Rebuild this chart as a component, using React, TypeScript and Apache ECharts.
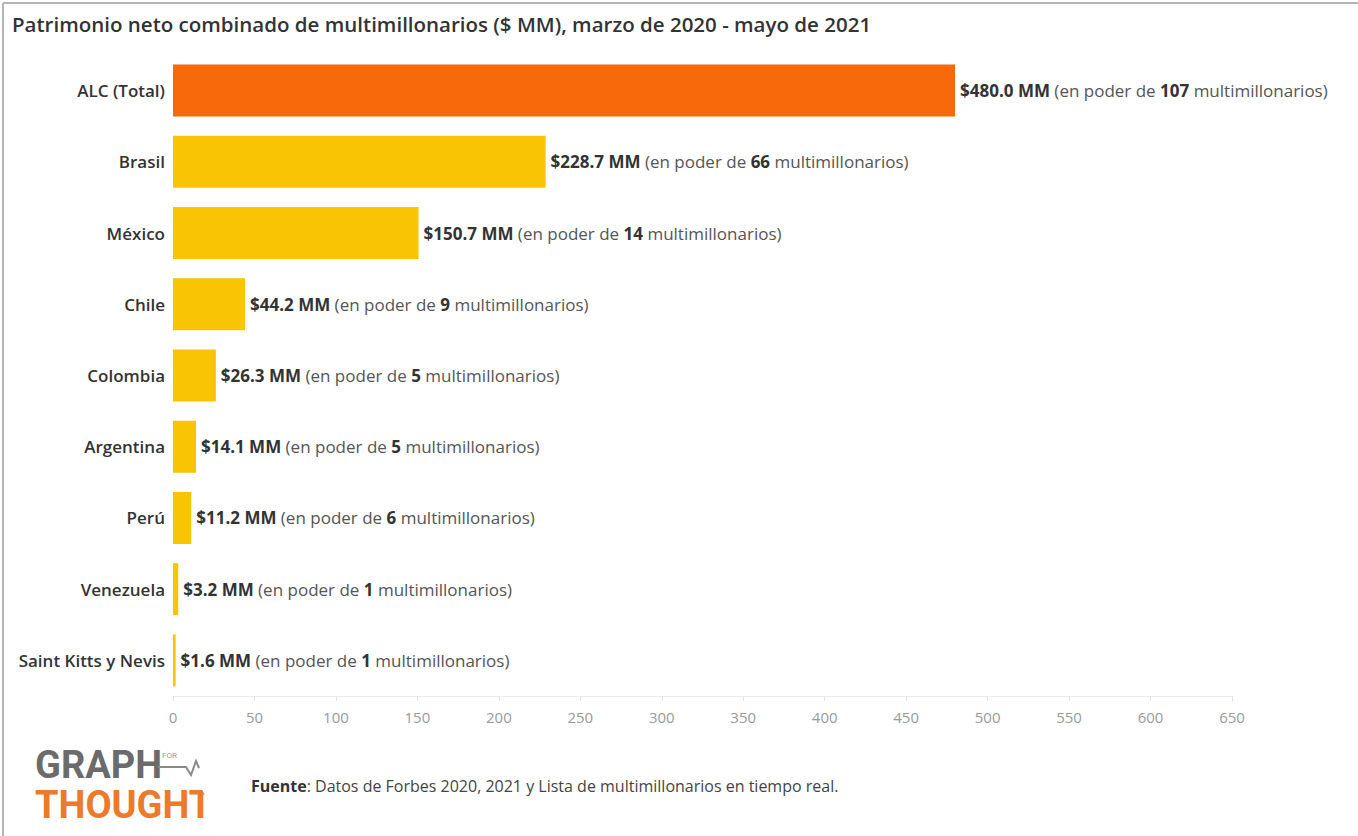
import React, { useEffect, useRef } from "react";
import * as echarts from "echarts";

const categories = [
  "ALC (Total)",
  "Brasil",
  "México",
  "Chile",
  "Colombia",
  "Argentina",
  "Perú",
  "Venezuela",
  "Saint Kitts y Nevis",
];
const netWorth = [480.0, 228.7, 150.7, 44.2, 26.3, 14.1, 11.2, 3.2, 1.6];
const billionaires = [107, 66, 14, 9, 5, 5, 6, 1, 1];
const axisMax = 650;
const axisStep = 50;

const titleText =
  "Patrimonio neto combinado de multimillonarios ($ MM), marzo de 2020 - mayo de 2021";
const sourceLabel = "Fuente";
const sourceText = ": Datos de Forbes 2020, 2021 y Lista de multimillonarios en tiempo real.";

const ORANGE = "#F8690C";
const YELLOW = "#F9C404";
const FONT = "'Open Sans', 'Noto Sans', sans-serif";

export default function App() {
  const ref = useRef<HTMLDivElement>(null);

  useEffect(() => {
    if (!ref.current) return;
    const chart = echarts.init(ref.current, undefined, { renderer: "svg" });
    chart.setOption({
      animation: false,
      backgroundColor: "#ffffff",
      textStyle: { fontFamily: FONT },
      grid: { left: 173, top: 55, width: 1059, height: 641, containLabel: false },
      xAxis: {
        type: "value",
        min: 0,
        max: axisMax,
        interval: axisStep,
        axisLine: { show: true, lineStyle: { color: "#ececec", width: 1 } },
        axisTick: { show: true, length: 5, lineStyle: { color: "#e2e2e2" } },
        splitLine: { show: false },
        axisLabel: {
          color: "#9a9a9a",
          fontSize: 15,
          margin: 13,
          fontFamily: FONT,
        },
      },
      yAxis: {
        type: "category",
        data: categories,
        inverse: true,
        axisLine: { show: false },
        axisTick: { show: false },
        axisLabel: {
          color: "#333333",
          fontSize: 17,
          fontWeight: 600,
          margin: 8,
          fontFamily: FONT,
        },
      },
      series: [
        {
          type: "bar",
          data: netWorth.map((v, i) => ({
            value: v,
            itemStyle: { color: i === 0 ? ORANGE : YELLOW },
          })),
          barWidth: 52,
          label: {
            show: true,
            position: "right",
            distance: 5,
            formatter: (p: any) =>
              `{b|$${Number(p.value).toFixed(1)} MM}{n| (en poder de }{b|${billionaires[p.dataIndex]}}{n| multimillonarios)}`,
            rich: {
              b: { fontSize: 17, fontWeight: 700, color: "#333333", fontFamily: FONT },
              n: { fontSize: 17, fontWeight: 400, color: "#555555", fontFamily: FONT },
            },
          },
        },
      ],
      graphic: [
        { type: "line", shape: { x1: 3, y1: 3, x2: 1358, y2: 3 }, style: { stroke: "#b5b5b5", lineWidth: 2 } },
        { type: "line", shape: { x1: 3, y1: 3, x2: 3, y2: 836 }, style: { stroke: "#b5b5b5", lineWidth: 2 } },
        {
          type: "text",
          left: 12,
          top: 13,
          style: {
            text: titleText,
            font: `600 20.5px ${FONT}`,
            fill: "#333333",
          },
        },
        {
          type: "text",
          x: 35,
          y: 746,
          style: { text: "GRAPH", font: `bold 38px Roboto, sans-serif`, fill: "#6b6b6b" },
        },
        {
          type: "text",
          x: 162,
          y: 751,
          style: { text: "FOR", font: `8px Roboto, sans-serif`, fill: "#9a9a9a" },
        },
        {
          type: "polyline",
          shape: { points: [[158, 767], [186, 767], [191, 775], [196, 761], [199, 768]] },
          style: { stroke: "#8a8a8a", lineWidth: 2, fill: "none" },
        },
        {
          type: "text",
          x: 35,
          y: 786,
          style: { text: "THOUGHT", font: `bold 38px Roboto, sans-serif`, fill: "#EC7A2A" },
        },
        {
          type: "circle",
          shape: { cx: 225, cy: 782, r: 24 },
          style: { fill: "#ffffff" },
        },
        {
          type: "text",
          x: 251,
          y: 778,
          style: {
            text: `{b|${sourceLabel}}{n|${sourceText}}`,
            rich: {
              b: { fontSize: 16, fontWeight: 700, fill: "#333333", fontFamily: FONT },
              n: { fontSize: 16, fontWeight: 400, fill: "#444444", fontFamily: FONT },
            },
          },
        },
      ],
    });
    return () => chart.dispose();
  }, []);

  return (
    <div
      ref={ref}
      style={{ position: "absolute", left: 0, top: 0, width: 1358, height: 836, background: "#fff" }}
    />
  );
}
